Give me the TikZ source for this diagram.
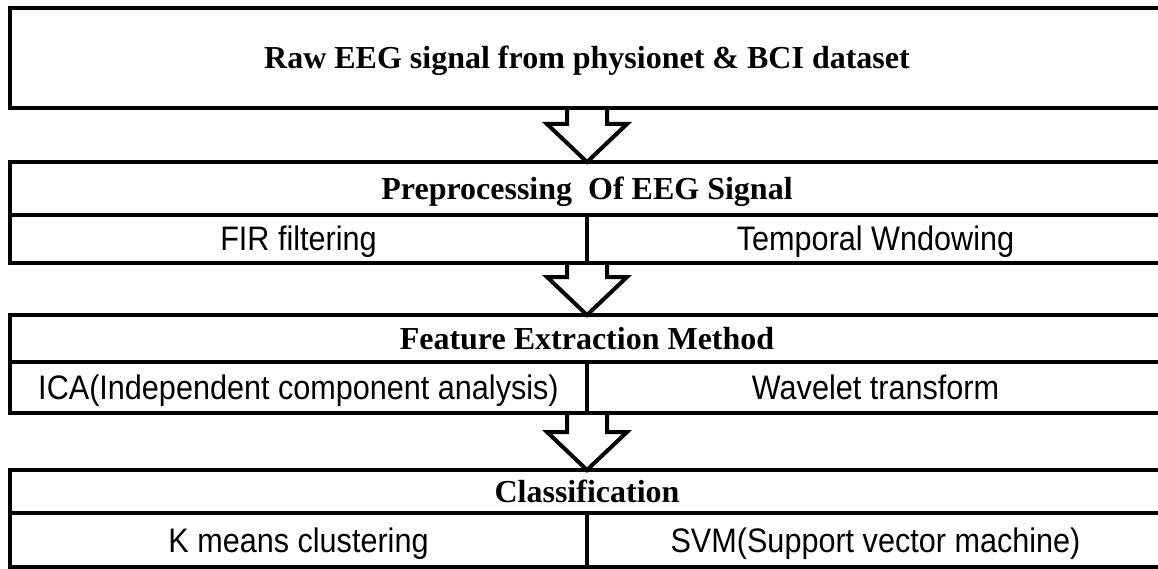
\documentclass[tikz,border=0pt]{standalone}
\usepackage{fontspec}
\setmainfont{Liberation Serif}
\newfontfamily\cellfont[FakeStretch=0.9]{Liberation Sans}
\usetikzlibrary{calc}
\tikzset{
	box/.style 2 args={draw,line width=4pt,inner sep=0pt,outer sep=0pt,minimum width=#1,minimum height=#2},
	head/.style={font=\fontsize{32}{36}\selectfont\bfseries,text height=22pt,text depth=0pt},
	cell/.style={font=\cellfont\fontsize{34}{38}\selectfont,text height=24pt,text depth=0pt},
	blockarr/.style={line width=4pt}
}

\begin{document}
\begin{tikzpicture}[x=1pt,y=-1pt]
	\useasboundingbox (0,0) rectangle (1158,569);

	% input
	\node [box={1154pt}{100pt},head] (raw) at (587,58) {Raw EEG signal from physionet \& BCI dataset};

	% preprocessing
	\node [box={1154pt}{53pt},head] (pre) at (587,188.5) {Preprocessing\ \ Of EEG Signal};
	\node [box={577pt}{48pt},cell] (fir) at (298.5,239) {FIR filtering};
	\node [box={577pt}{48pt},cell] (win) at (875.5,239) {Temporal Wndowing};

	% features
	\node [box={1154pt}{47pt},head] (feat) at (587,338.5) {Feature Extraction Method};
	\node [box={577pt}{51pt},cell] (ica) at (298.5,387.5) {ICA(Independent component analysis)};
	\node [box={577pt}{51pt},cell] (wav) at (875.5,387.5) {Wavelet transform};

	% classifiers
	\node [box={1154pt}{43pt},head] (cls) at (587,491.5) {Classification};
	\node [box={577pt}{54pt},cell] (km) at (298.5,540) {K means clustering};
	\node [box={577pt}{54pt},cell] (svm) at (875.5,540) {SVM(Support vector machine)};

	\foreach \a/\b in {raw.south/pre.north, fir.south east/feat.north, ica.south east/cls.north}
		\draw [blockarr] ($(\a)+(-20,0)$) |- ($(\b)+(-40,-38)$) -- (\b) -- ($(\b)+(40,-38)$) -| ($(\a)+(20,0)$);
\end{tikzpicture}
\end{document}
